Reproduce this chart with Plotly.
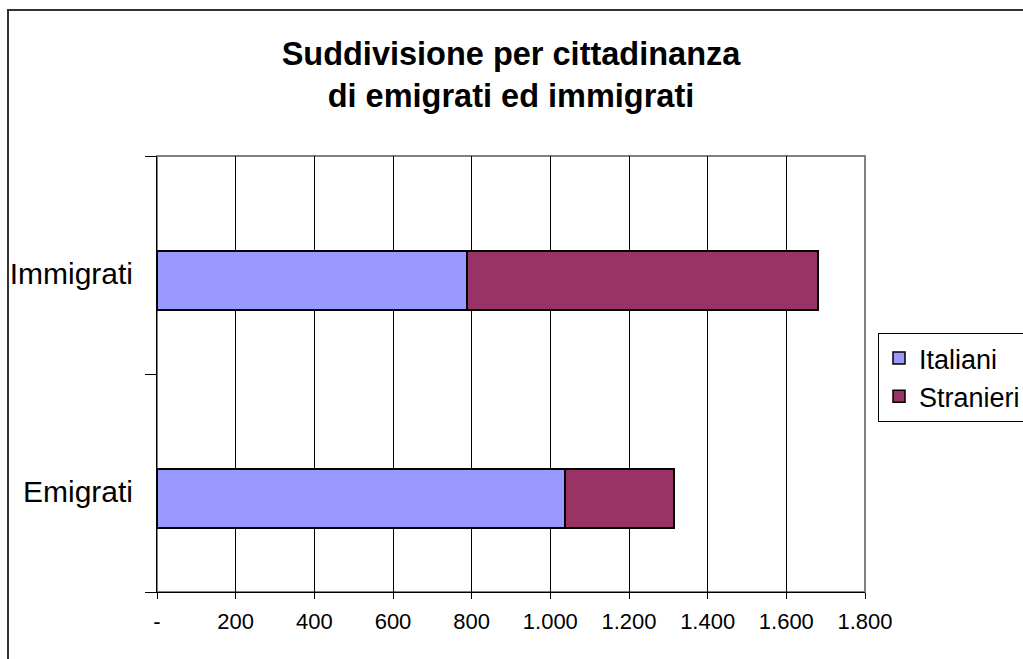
import plotly.graph_objects as go

categories = ["Emigrati", "Immigrati"]
italiani = [1037, 788]
stranieri = [277, 892]
x_tickvals = [0, 200, 400, 600, 800, 1000, 1200, 1400, 1600, 1800]
x_ticktext = ["-", "200", "400", "600", "800", "1.000", "1.200", "1.400", "1.600", "1.800"]

FONT = "Liberation Sans, Arial, sans-serif"
BW = 0.27
OFF = -0.206

fig = go.Figure()
fig.add_trace(go.Bar(
    y=categories, x=italiani, name="Italiani", orientation="h",
    marker=dict(color="#9999FF", line=dict(color="black", width=1.5)),
    width=BW, offset=OFF, legendgroup="a",
))
fig.add_trace(go.Bar(
    y=categories, x=stranieri, name="Stranieri", orientation="h",
    marker=dict(color="#993366", line=dict(color="black", width=1.5)),
    width=BW, offset=OFF, legendgroup="b",
))

fig.update_layout(
    width=1023, height=659,
    margin=dict(l=157, r=158, t=156, b=67, autoexpand=False),
    barmode="stack",
    paper_bgcolor="white", plot_bgcolor="white",
    font=dict(family=FONT, color="black"),
    title=dict(
        text="<b>Suddivisione per cittadinanza<br>di emigrati ed immigrati</b>",
        x=0.5, xref="paper", xanchor="center",
        y=(659 - 65) / 659, yanchor="top", yref="container",
        font=dict(size=32.5, family=FONT, color="black"),
    ),
    legend=dict(
        x=(878 - 157) / 708, xanchor="left",
        y=(592 - 333) / 436, yanchor="top",
        bgcolor="white", bordercolor="black", borderwidth=1,
        font=dict(size=27, family=FONT),
        tracegroupgap=6,
        traceorder="normal",
    ),
    showlegend=True,
    xaxis=dict(
        range=[0, 1800], tickvals=x_tickvals, ticktext=x_ticktext,
        showgrid=True, gridcolor="black", gridwidth=1,
        showline=True, linecolor="black", linewidth=1,
        ticks="outside", ticklen=6, tickcolor="black",
        tickfont=dict(size=22, family=FONT),
        ticklabelstandoff=4,
        zeroline=False, fixedrange=True,
    ),
    yaxis=dict(
        categoryorder="array", categoryarray=categories,
        range=[-0.5, 1.5],
        showline=True, linecolor="black", linewidth=1,
        ticks="outside", ticklen=11, tickcolor="black", tickson="boundaries",
        tickfont=dict(size=30, family=FONT),
        showgrid=False, zeroline=False, fixedrange=True,
        ticklabelstandoff=17, ticklabelshift=8,
    ),
    shapes=[
        dict(type="rect", xref="paper", yref="paper", x0=0, x1=1, y0=0, y1=1,
             line=dict(color="#808080", width=2), layer="below"),
        dict(type="rect", xref="paper", yref="paper",
             x0=(8 - 157) / 708, x1=(1040 - 157) / 708,
             y0=(592 - 680) / 436, y1=(592 - 10) / 436,
             line=dict(color="#333333", width=2), layer="below"),
    ],
)

fig.write_html("out.html")
